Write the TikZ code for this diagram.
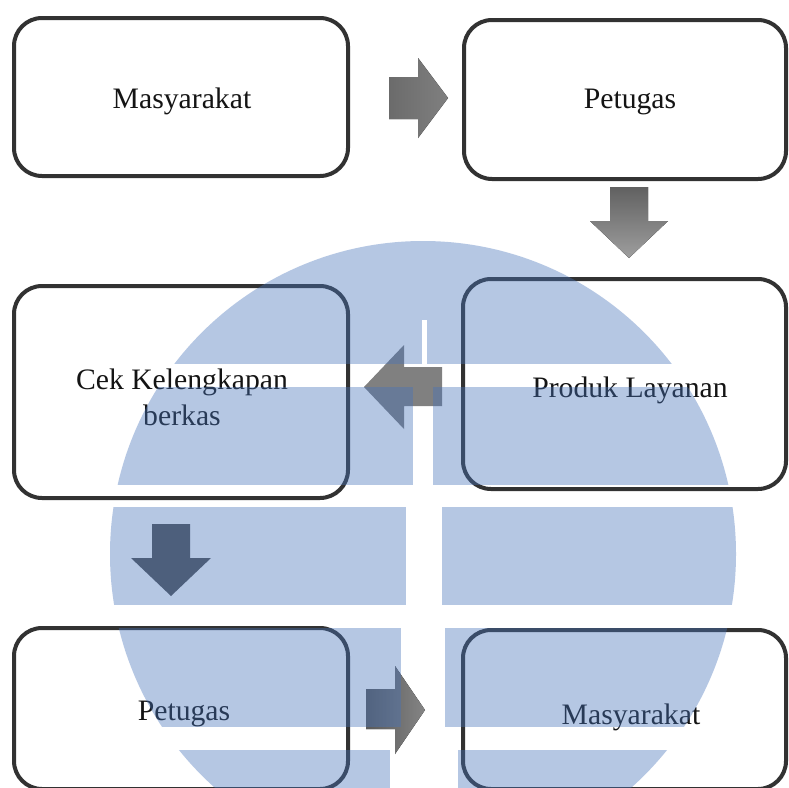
\documentclass[tikz,border=0pt]{standalone}
\usepackage{fontspec}
\setmainfont{Liberation Serif}
\definecolor{boxgray}{RGB}{50,50,50}
\definecolor{txt}{RGB}{20,20,20}
\definecolor{wm}{RGB}{70,115,187}
\begin{document}
\begin{tikzpicture}[x=1pt,y=-1pt,
  box/.style={draw=boxgray, line width=4pt, rounded corners=28pt, fill=white, inner sep=0pt},
  lbl/.style={inner sep=0pt, align=center, text=txt, font=\fontsize{29.7}{36}\selectfont},
  wmfill/.style={fill=wm, fill opacity=0.4}
]
\useasboundingbox (0,0) rectangle (789,787);
\fill[white] (0,0) rectangle (789,787);

% boxes
\node[box, minimum width=334pt, minimum height=158pt] (m1) at (181,97) {};
\node[box, minimum width=322pt, minimum height=159pt] (p1) at (625,99.5) {};
\node[box, minimum width=334pt, minimum height=212pt] (cek) at (181,392) {};
\node[box, minimum width=323pt, minimum height=210pt] (prod) at (624.5,384) {};
\node[box, minimum width=334pt, minimum height=161pt] (p2) at (181,708.5) {};
\node[box, minimum width=323pt, minimum height=159pt] (m2) at (624.5,709.5) {};

% labels
\node[lbl] (m1t) at (182,101) {Masyarakat};
\node[lbl] (p1t) at (630,102) {Petugas};
\node[lbl] (cekt) at (182,397) {Cek Kelengkapan\\berkas};
\node[lbl] (prodt) at (630,390) {Produk Layanan};
\node[lbl] (p2t) at (184,714) {Petugas};
\node[lbl] (m2t) at (631,717) {Masyarakat};

% block arrows
\fill[left color=black!58, right color=black!50]
  (389,77) -- (418,77) -- (418,58) -- (448,98) -- (418,138) -- (418,119) -- (389,119) -- cycle;
\fill[top color=black!62, bottom color=black!38]
  (610,187) -- (648,187) -- (648,221) -- (668,221) -- (629,258) -- (590,221) -- (610,221) -- cycle;
\fill[black!50]
  (442,367) -- (404,367) -- (404,345) -- (364,387) -- (404,429) -- (404,406) -- (442,406) -- cycle;
\fill[black!68]
  (152,524) -- (190,524) -- (190,558) -- (211,558) -- (171,596) -- (131,558) -- (152,558) -- cycle;
\fill[left color=black!65, right color=black!48]
  (366,689) -- (395,689) -- (395,666) -- (425,710) -- (395,754) -- (395,729) -- (366,729) -- cycle;

% watermark
\begin{scope}
  \clip (423,554) circle[radius=313pt];
  \fill[wmfill] (0,230) rectangle (789,320);
  \fill[wmfill] (0,320) rectangle (422,364);
  \fill[wmfill] (427,320) rectangle (789,364);
  \fill[wmfill] (0,387) rectangle (413,485);
  \fill[wmfill] (433,387) rectangle (789,485);
  \fill[wmfill] (0,507) rectangle (406,605);
  \fill[wmfill] (442,507) rectangle (789,605);
  \fill[wmfill] (0,628) rectangle (401,727);
  \fill[wmfill] (445,628) rectangle (789,727);
  \fill[wmfill] (0,750) rectangle (390,800);
  \fill[wmfill] (458,750) rectangle (789,800);
\end{scope}
\end{tikzpicture}
\end{document}
